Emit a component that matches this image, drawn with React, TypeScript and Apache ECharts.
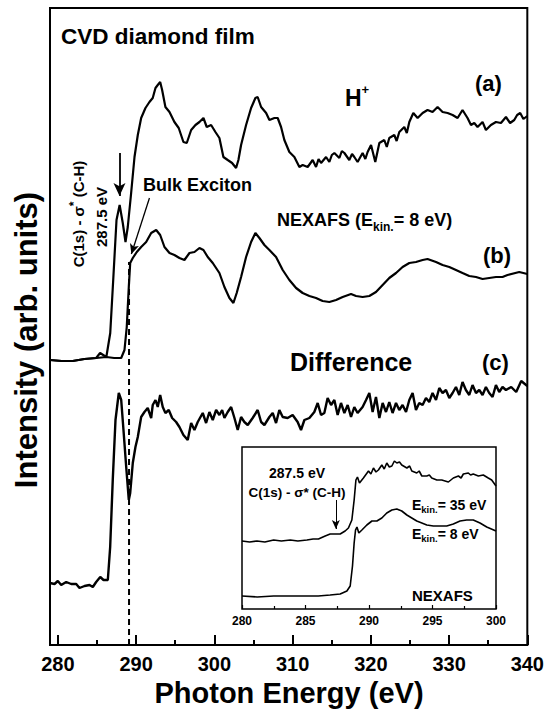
import React, { useEffect, useRef } from 'react';
import * as echarts from 'echarts';

const FONT = '"Liberation Sans", Arial, Helvetica, sans-serif';

// main axis ticks (eV)
const xMajorTicks = [280, 290, 300, 310, 320, 330, 340];
const xMinorTicks = [285, 295, 305, 315, 325, 335];

// (a) H+ spectrum  [photon energy eV, intensity arb.]
const curveA: [number, number][] = [
  [279.0, 285], [280.5, 284], [281.9, 284], [283.4, 286], [284.9, 287], [285.4, 292], [286.2, 288],
  [286.7, 312], [287.1, 368], [287.5, 425], [287.9, 440], [288.3, 422], [288.65, 403], [288.94, 418],
  [289.37, 452], [289.8, 488], [290.22, 510], [290.65, 527], [291.2, 537], [291.71, 543], [292.13, 547],
  [292.48, 557], [292.77, 560], [293.08, 563], [293.33, 555], [293.75, 538], [294.27, 533], [294.9, 523],
  [295.45, 517], [296.05, 503], [296.48, 502], [297.04, 515], [297.59, 520], [298.1, 523], [298.61, 527],
  [299.03, 518], [299.59, 520], [300.14, 513], [300.65, 507], [301.16, 488], [301.71, 485], [302.27, 482],
  [302.78, 477], [303.08, 485], [303.42, 500], [304.06, 520], [304.7, 537], [305.25, 547], [305.54, 548],
  [305.98, 538], [306.62, 532], [307.04, 525], [307.68, 527], [308.1, 527], [308.53, 518], [308.95, 505],
  [309.59, 493], [310.23, 488], [310.87, 478], [311.29, 480], [311.93, 478], [312.57, 485], [313.0, 478],
  [313.32, 486], [313.64, 482], [314.28, 488], [314.7, 483], [315.02, 490], [315.34, 492], [315.98, 487],
  [316.3, 494], [316.62, 492], [317.25, 485], [317.6, 491], [317.89, 488], [318.31, 483], [318.95, 492],
  [319.3, 486], [319.59, 493], [320.03, 500], [320.57, 483], [321.09, 502], [321.72, 505], [322.04, 498],
  [322.36, 507], [323.0, 510], [323.3, 504], [323.64, 513], [324.28, 518], [324.6, 512], [324.92, 523],
  [325.43, 532], [325.98, 527], [326.62, 532], [327.25, 535], [327.89, 533], [328.53, 538], [329.17, 533],
  [329.81, 532], [330.45, 530], [331.09, 527], [331.72, 535], [332.36, 527], [332.8, 520], [333.22, 522],
  [333.64, 518], [334.28, 523], [334.71, 515], [335.35, 520], [335.99, 523], [336.63, 522], [337.27, 528],
  [337.8, 522], [338.33, 525], [338.7, 530], [339.09, 532], [339.5, 526], [340.0, 529],
];

// (b) NEXAFS, E_kin = 8 eV
const curveB: [number, number][] = [
  [279.0, 285], [280.5, 284], [281.9, 284], [283.4, 286], [284.9, 287], [286.2, 288], [287.2, 287],
  [288.1, 287], [288.52, 295], [288.81, 318], [289.07, 358], [289.25, 382], [289.58, 387], [290.09, 393],
  [290.65, 398], [291.29, 403], [291.93, 412], [292.57, 415], [293.08, 410], [293.63, 398], [294.27, 392],
  [294.9, 390], [295.54, 387], [296.18, 385], [296.82, 392], [297.46, 393], [298.1, 397], [298.61, 395],
  [299.16, 388], [299.8, 382], [300.65, 372], [301.29, 358], [301.93, 347], [302.44, 342], [302.86, 352],
  [303.42, 368], [304.06, 388], [304.7, 403], [305.25, 412], [305.76, 407], [306.4, 400], [307.04, 395],
  [307.89, 388], [308.74, 375], [309.59, 365], [310.45, 357], [311.29, 352], [312.15, 349], [313.0, 347],
  [313.84, 344], [314.7, 343], [315.56, 345], [316.4, 348], [317.47, 351], [318.11, 349], [318.95, 348],
  [319.81, 349], [320.66, 353], [321.51, 360], [322.36, 367], [323.22, 372], [324.06, 378], [324.92, 382],
  [325.77, 383], [326.62, 385], [327.25, 386], [328.33, 383], [329.17, 380], [330.03, 378], [330.88, 375],
  [331.72, 372], [332.58, 369], [333.44, 368], [334.28, 366], [335.13, 367], [335.99, 368], [336.83, 368],
  [337.47, 370], [338.97, 373], [340.0, 371],
];

// (c) Difference
const curveC: [number, number][] = [
  [279.0, 62], [279.58, 61], [280.0, 64], [280.43, 60], [281.07, 63], [281.71, 61], [282.35, 61],
  [282.77, 57], [283.41, 59], [284.05, 60], [284.47, 58], [284.9, 63], [285.42, 68], [285.84, 65],
  [286.39, 65], [286.69, 98], [287.02, 165], [287.37, 225], [287.79, 252], [288.1, 245], [288.39, 215],
  [288.74, 178], [289.07, 145], [289.25, 152], [289.58, 182], [289.92, 198], [290.22, 208], [290.65, 228],
  [291.07, 233], [291.49, 237], [291.93, 227], [292.13, 240], [292.48, 245], [292.77, 238], [293.08, 250],
  [293.41, 238], [293.75, 232], [294.18, 235], [294.61, 227], [295.12, 223], [295.54, 218], [296.05, 210],
  [296.6, 205], [297.04, 222], [297.46, 215], [297.88, 223], [298.52, 232], [298.95, 222], [299.37, 233],
  [299.8, 225], [300.23, 235], [300.65, 230], [301.0, 235], [301.29, 227], [301.71, 233], [302.15, 238],
  [302.57, 227], [302.99, 215], [303.42, 228], [303.84, 223], [304.27, 220], [304.9, 227], [305.54, 235],
  [305.98, 223], [306.4, 220], [307.04, 228], [307.46, 232], [307.89, 222], [308.31, 235], [308.74, 228],
  [309.37, 227], [310.01, 230], [310.65, 223], [311.08, 215], [311.51, 225], [312.15, 227], [312.78, 233],
  [313.21, 242], [313.64, 230], [314.06, 232], [314.48, 247], [314.92, 240], [315.34, 245], [315.76, 230],
  [316.19, 242], [316.62, 232], [317.04, 240], [317.47, 228], [317.89, 238], [318.31, 232], [318.95, 238],
  [319.39, 245], [319.81, 252], [320.23, 233], [320.66, 248], [321.09, 227], [321.51, 242], [321.94, 233],
  [322.36, 243], [322.78, 232], [323.22, 242], [323.64, 235], [324.06, 240], [324.5, 233], [324.92, 245],
  [325.34, 252], [325.77, 235], [326.19, 242], [326.62, 240], [327.05, 247], [327.47, 243], [327.89, 252],
  [328.33, 245], [328.75, 257], [329.17, 252], [329.6, 255], [330.03, 247], [330.45, 252], [330.88, 258],
  [331.3, 250], [331.72, 263], [332.15, 255], [332.58, 250], [333.0, 260], [333.44, 252], [333.86, 255],
  [334.28, 250], [334.71, 258], [335.13, 252], [335.56, 248], [335.99, 260], [336.41, 253], [336.83, 258],
  [337.27, 255], [337.94, 258], [338.58, 253], [339.22, 264], [340.0, 259],
];

// vertical dashed marker at the bulk exciton energy
const excitonLine: [number, number][] = [[289.1, 0], [289.1, 383]];

// inset: NEXAFS at two kinetic energies
const insetTicks = { min: 280, max: 300, step: 5 };
const inset35: [number, number][] = [
  [280.0, 68], [280.6, 67], [281.18, 68], [281.8, 67], [282.49, 69], [283.1, 68], [283.8, 69], [284.4, 68],
  [285.11, 69], [285.6, 70], [286.02, 70], [286.55, 73], [286.94, 75], [287.34, 75], [287.73, 75],
  [288.12, 78], [288.38, 81], [288.65, 89], [288.83, 109], [288.97, 129], [289.09, 132], [289.25, 126],
  [289.56, 131], [289.96, 138], [290.15, 135], [290.35, 141], [290.55, 137], [290.74, 139], [291.01, 144],
  [291.2, 140], [291.4, 146], [291.6, 142], [291.8, 143], [292.0, 148], [292.19, 146], [292.4, 147],
  [292.58, 144], [292.98, 141], [293.2, 143], [293.37, 138], [293.76, 136], [293.95, 138], [294.16, 133],
  [294.55, 133], [294.75, 134], [294.94, 131], [295.34, 129], [295.73, 129], [296.25, 127], [296.64, 131],
  [297.04, 133], [297.25, 131], [297.43, 135], [297.82, 136], [298.0, 134], [298.21, 135], [298.61, 133],
  [299.0, 134], [299.39, 131], [299.66, 129], [300.0, 123],
];
const inset8: [number, number][] = [
  [280.0, 13], [281.2, 12], [282.49, 13], [283.8, 13], [285.11, 13], [286.0, 13], [286.94, 14],
  [287.73, 15], [288.26, 18], [288.52, 23], [288.7, 43], [288.83, 66], [288.94, 79], [289.05, 82],
  [289.2, 76], [289.44, 79], [289.83, 84], [290.23, 88], [290.62, 88], [291.01, 91], [291.4, 96],
  [291.8, 99], [292.19, 100], [292.58, 98], [292.98, 94], [293.37, 91], [293.76, 88], [294.16, 86],
  [294.55, 84], [295.07, 83], [295.6, 83], [296.12, 83], [296.64, 85], [297.17, 88], [297.69, 89],
  [298.21, 89], [298.74, 86], [299.27, 82], [300.0, 78],
];

// annotation arrows (data coordinates)
const arrowCH: [number, number][] = [[287.88, 492], [287.88, 449]];
const arrowExciton: [number, number][] = [[291.71, 447], [289.4, 391]];
const arrowInset: [number, number][] = [[287.39, 109], [287.39, 80]];

const black = '#000';

function lineSeries(data: [number, number][], xi: number, yi: number, width: number, extra: any = {}) {
  return {
    type: 'line',
    xAxisIndex: xi,
    yAxisIndex: yi,
    data,
    symbol: 'none',
    showSymbol: false,
    silent: true,
    lineStyle: { color: black, width },
    z: 3,
    ...extra,
  };
}

function arrowMark(pts: [number, number][], width: number, size: number[]) {
  return {
    silent: true,
    symbol: ['none', 'arrow'],
    symbolSize: size,
    label: { show: false },
    lineStyle: { color: black, width, type: 'solid' },
    data: [[{ coord: pts[0] }, { coord: pts[1] }]],
  };
}

function txt(x: number, y: number, text: string, fontSize: number, extra: any = {}, styleExtra: any = {}) {
  return {
    type: 'text',
    x,
    y,
    z: 100,
    silent: true,
    ...extra,
    style: {
      text,
      fill: black,
      fontFamily: FONT,
      fontWeight: 'bold',
      fontSize,
      align: 'left',
      verticalAlign: 'middle',
      ...styleExtra,
    },
  };
}

export default function App() {
  const ref = useRef<HTMLDivElement>(null);
  useEffect(() => {
    if (!ref.current) return;
    const chart = echarts.init(ref.current, undefined, { renderer: 'svg' });

    const option: any = {
      animation: false,
      backgroundColor: '#fff',
      textStyle: { fontFamily: FONT },
      grid: [
        { left: 50, top: 8, width: 478, height: 637, show: true, borderColor: black, borderWidth: 2, backgroundColor: 'transparent', containLabel: false },
        { left: 242, top: 447, width: 254, height: 162, show: true, borderColor: black, borderWidth: 1.5, backgroundColor: '#fff', containLabel: false },
      ],
      xAxis: [
        {
          gridIndex: 0, type: 'value', min: 279, max: 340, position: 'bottom',
          axisLine: { show: false },
          splitLine: { show: false },
          axisTick: { show: true, inside: true, length: 10, customValues: xMajorTicks, lineStyle: { color: black, width: 2 } },
          axisLabel: { show: true, customValues: xMajorTicks, margin: 9, color: black, fontSize: 20, fontWeight: 'bold', fontFamily: FONT },
        },
        {
          gridIndex: 0, type: 'value', min: 279, max: 340, position: 'bottom',
          axisLine: { show: false },
          splitLine: { show: false },
          axisTick: { show: true, inside: true, length: 5, customValues: xMinorTicks, lineStyle: { color: black, width: 2 } },
          axisLabel: { show: false },
        },
        {
          gridIndex: 1, type: 'value', min: insetTicks.min, max: insetTicks.max, interval: insetTicks.step, position: 'bottom',
          axisLine: { show: false },
          splitLine: { show: false },
          axisTick: { show: true, inside: true, length: 4, lineStyle: { color: black, width: 1.2 } },
          minorTick: { show: true, splitNumber: 2, length: 3, lineStyle: { color: black, width: 1.2 } },
          axisLabel: { show: true, margin: 6, color: black, fontSize: 12, fontWeight: 'bold', fontFamily: FONT },
        },
      ],
      yAxis: [
        { gridIndex: 0, type: 'value', min: 0, max: 637, show: false, splitLine: { show: false } },
        { gridIndex: 1, type: 'value', min: 0, max: 162, show: false, splitLine: { show: false } },
      ],
      series: [
        lineSeries(curveA, 0, 0, 2.2, { markLine: arrowMark(arrowCH, 1.8, [9, 13]) }),
        lineSeries(curveB, 0, 0, 2.2, { markLine: arrowMark(arrowExciton, 1.3, [7, 10]) }),
        lineSeries(curveC, 0, 0, 2.4),
        lineSeries(excitonLine, 0, 0, 2, { lineStyle: { color: black, width: 2, type: [6, 4] } }),
        lineSeries(inset35, 2, 1, 1.6, { markLine: arrowMark(arrowInset, 1, [6, 9]) }),
        lineSeries(inset8, 2, 1, 1.6),
      ],
      graphic: [
        txt(61, 36, 'CVD diamond film', 22.5),
        txt(26, 340, 'Intensity (arb. units)', 31, { rotation: Math.PI / 2 }, { align: 'center' }),
        txt(289, 693, 'Photon Energy (eV)', 29, {}, { align: 'center' }),
        txt(77, 214, '{m|C(1s) - σ}{s|*}{m| (C-H)}', 15, { rotation: Math.PI / 2 }, {
          align: 'center',
          rich: {
            m: { fontSize: 15, fontWeight: 'bold', fontFamily: FONT, fill: black, lineHeight: 18, verticalAlign: 'bottom' },
            s: { fontSize: 12, fontWeight: 'bold', fontFamily: FONT, fill: black, lineHeight: 18, verticalAlign: 'top' },
          },
        }),
        txt(101, 217, '287.5 eV', 15, { rotation: Math.PI / 2 }, { align: 'center' }),
        txt(143, 185, 'Bulk Exciton', 18),
        txt(345, 96, '{m|H}{s|+}', 22, {}, {
          rich: {
            m: { fontSize: 23, fontWeight: 'bold', fontFamily: FONT, fill: black, lineHeight: 26, verticalAlign: 'bottom' },
            s: { fontSize: 13, fontWeight: 'bold', fontFamily: FONT, fill: black, lineHeight: 13, verticalAlign: 'top' },
          },
        }),
        txt(475, 83, '(a)', 22),
        txt(277, 222, '{m|NEXAFS (E}{k|kin.}{m|= 8 eV)}', 18, {}, {
          rich: {
            m: { fontSize: 18, fontWeight: 'bold', fontFamily: FONT, fill: black, lineHeight: 22, verticalAlign: 'top' },
            k: { fontSize: 12, fontWeight: 'bold', fontFamily: FONT, fill: black, lineHeight: 12, verticalAlign: 'bottom' },
          },
        }),
        txt(483, 255, '(b)', 22),
        txt(290, 362, 'Difference', 25),
        txt(482, 362, '(c)', 22),
        // inset labels
        txt(297, 473, '287.5 eV', 14, {}, { align: 'center' }),
        txt(297, 492, 'C(1s) - σ* (C-H)', 13.5, {}, { align: 'center' }),
        txt(412, 506, '{m|E}{k|kin.}{m|= 35 eV}', 14, {}, {
          rich: {
            m: { fontSize: 14, fontWeight: 'bold', fontFamily: FONT, fill: black, lineHeight: 17, verticalAlign: 'top' },
            k: { fontSize: 9.5, fontWeight: 'bold', fontFamily: FONT, fill: black, lineHeight: 10, verticalAlign: 'bottom' },
          },
        }),
        txt(412, 535, '{m|E}{k|kin.}{m|= 8 eV}', 14, {}, {
          rich: {
            m: { fontSize: 14, fontWeight: 'bold', fontFamily: FONT, fill: black, lineHeight: 17, verticalAlign: 'top' },
            k: { fontSize: 9.5, fontWeight: 'bold', fontFamily: FONT, fill: black, lineHeight: 10, verticalAlign: 'bottom' },
          },
        }),
        txt(412, 595, 'NEXAFS', 15),
      ],
    };
    chart.setOption(option);
    return () => chart.dispose();
  }, []);
  return (
    <div
      ref={ref}
      style={{ position: 'fixed', left: 0, top: 0, width: 547, height: 712, background: '#fff' }}
    />
  );
}
